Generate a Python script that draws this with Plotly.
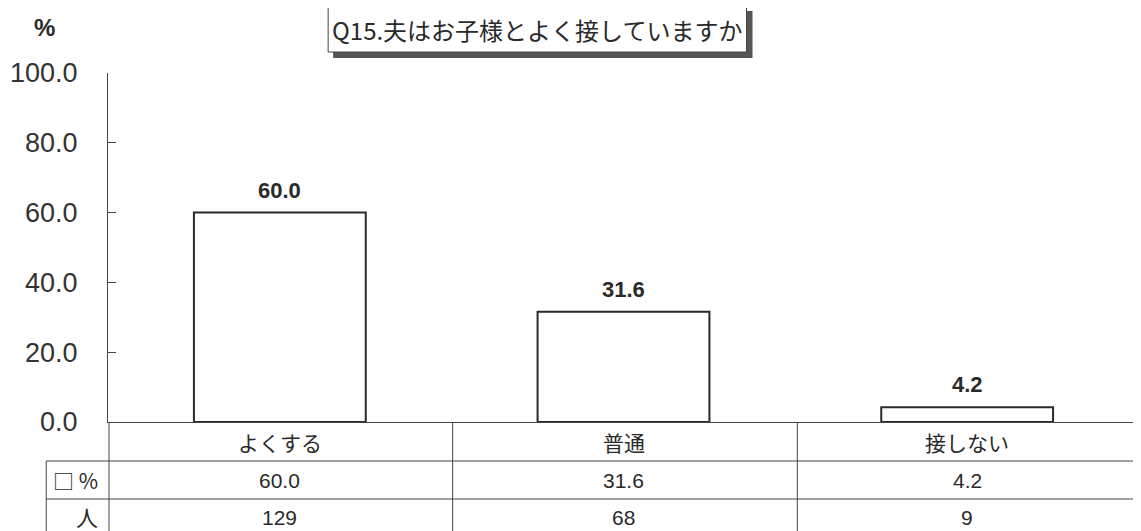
import plotly.graph_objects as go

# data
categories = ["よくする", "普通", "接しない"]
percent = [60.0, 31.6, 4.2]
counts = [129, 68, 9]
row_labels = ["□ %", "人"]
y_ticks = [0, 20, 40, 60, 80, 100]

title_text = "Q15.夫はお子様とよく接していますか"

# the page body has an 8px margin, so the figure is shrunk by that much
OFF = 8
W, H = 1141 - OFF, 531 - OFF
L, R, T, B = 104 - OFF, 2, 73 - OFF, 109  # plot area 105..1139 x 73..422 on screen

LATIN = "Liberation Sans, Arial, Noto Sans CJK JP, sans-serif"
CJK = "Noto Sans CJK JP, sans-serif"
INK = "#2a2a2a"
GRID = "#444444"


def px(x):
    # screen x -> paper x
    return (x - OFF - L) / (W - L - R)


def py(y):
    # screen y -> paper y
    return (H - B - (y - OFF)) / (H - T - B)


fig = go.Figure(go.Bar(
    x=categories,
    y=percent,
    width=0.5,
    marker=dict(color="white", line=dict(color=INK, width=2)),
    hoverinfo="skip",
))

# value labels above bars
for c, v in zip(categories, percent):
    fig.add_annotation(x=c, y=v, xref="x", yref="y", text=f"{v:.1f}",
                       showarrow=False, xanchor="center", yanchor="bottom", yshift=8,
                       font=dict(family=LATIN, size=22, color=INK, weight="bold"))

shapes = []
line = dict(color=GRID, width=1)

# table grid under the plot
right_edge = 1139
for yy in [461, 499]:
    shapes.append(dict(type="line", xref="paper", yref="paper",
                       x0=px(42), x1=px(right_edge), y0=py(yy), y1=py(yy), line=line))
for xx in [105, 450, 796, right_edge]:
    shapes.append(dict(type="line", xref="paper", yref="paper",
                       x0=px(xx), x1=px(xx), y0=py(422), y1=py(540), line=line))
shapes.append(dict(type="line", xref="paper", yref="paper",
                   x0=px(42), x1=px(42), y0=py(461), y1=py(540), line=line))

# title box with drop shadow
shapes.append(dict(type="rect", xref="paper", yref="paper",
                   x0=px(330), x1=px(751), y0=py(58), y1=py(11),
                   fillcolor="#555555", line=dict(width=0)))
shapes.append(dict(type="rect", xref="paper", yref="paper",
                   x0=px(325), x1=px(745), y0=py(52), y1=py(6),
                   fillcolor="white", line=dict(color=GRID, width=1)))

fig.update_layout(shapes=shapes)


def note(x, y, text, font, xanchor="center", xref="paper"):
    fig.add_annotation(x=x, y=y, xref=xref, yref="paper", text=text,
                       showarrow=False, xanchor=xanchor, yanchor="middle",
                       font=font)


note(px(535), py(29), title_text, dict(family=CJK, size=24, color=INK))
note(px(40), py(27), "%", dict(family=LATIN, size=24, color=INK, weight="bold"))

# table text
for c, v, n in zip(categories, percent, counts):
    note(c, py(442), c, dict(family=CJK, size=21, color=INK), xref="x")
    note(c, py(480), f"{v:.1f}", dict(family=LATIN, size=21, color=INK), xref="x")
    note(c, py(518), str(n), dict(family=LATIN, size=21, color=INK), xref="x")

note(px(47), py(480), row_labels[0], dict(family=CJK, size=21, color=INK), xanchor="left")
note(px(96), py(516), row_labels[1], dict(family=CJK, size=22, color=INK), xanchor="right")

fig.update_layout(
    width=W, height=H,
    margin=dict(l=L, r=R, t=T, b=B),
    paper_bgcolor="white", plot_bgcolor="white",
    showlegend=False,
    xaxis=dict(range=[-0.5, 2.5], showticklabels=False, showgrid=False,
               showline=True, linecolor=GRID, linewidth=1, zeroline=False,
               ticks=""),
    yaxis=dict(range=[0, 100], tickvals=y_ticks, tickformat=".1f",
               showgrid=False, zeroline=False, showline=True,
               linecolor=GRID, linewidth=1, ticks="inside", ticklen=8,
               tickcolor=GRID, ticklabelstandoff=24,
               tickfont=dict(family=LATIN, size=27, color="#333333")),
)

fig.write_html("out.html")
